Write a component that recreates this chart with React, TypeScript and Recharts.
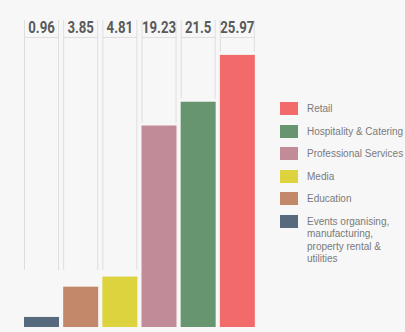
import { BarChart, Bar, XAxis, YAxis, Cell, Legend } from "recharts";

// Share of businesses by sector (%), smallest to largest as drawn left to right
const SECTORS = [
  "Events organising, manufacturing, property rental & utilities",
  "Education",
  "Media",
  "Professional Services",
  "Hospitality & Catering",
  "Retail",
];
const SHARES = [0.96, 3.85, 4.81, 19.23, 21.5, 25.97];
const SHARE_LABELS = ["0.96", "3.85", "4.81", "19.23", "21.5", "25.97"];
const COLORS = ["#56697d", "#c3876a", "#dcd33f", "#c18b98", "#679570", "#f26a6a"];

const data = SECTORS.map((name, i) => ({
  name,
  share: SHARES[i],
  label: SHARE_LABELS[i],
}));

const LINE = "#dedede";

// bar with its column frame: two thin uprights, the value on top and a rule under it
function FramedBar(props: any) {
  const { x, y, width, height, fill, background, payload } = props;
  const top = background.y;
  const bottom = background.y + background.height;
  const lineEnd = Math.min(bottom - 57, y - 3);
  return (
    <g>
      <line x1={x + 0.5} x2={x + 0.5} y1={top} y2={lineEnd} stroke={LINE} />
      <line x1={x + width - 0.5} x2={x + width - 0.5} y1={top} y2={lineEnd} stroke={LINE} />
      <line x1={x} x2={x + width} y1={top + 17.5} y2={top + 17.5} stroke={LINE} />
      {/* no condensed face installed, so squeeze Roboto bold horizontally */}
      <text
        transform={`translate(${x + width / 2}, ${top + 12.5}) scale(0.8, 1)`}
        textAnchor="middle"
        fill="#5a5a5a"
        fontSize={16.5}
        fontWeight="bold"
        fontFamily="Roboto, sans-serif"
      >
        {payload.label}
      </text>
      <rect x={x} y={y} width={width} height={height} fill={fill} />
    </g>
  );
}

function SectorLegend() {
  // legend lists the biggest sector first
  const order = SECTORS.map((_, i) => i).reverse();
  return (
    <div
      style={{
        fontFamily: '"Liberation Sans", Arial, sans-serif',
        fontSize: 10,
        color: "#7a7a7a",
      }}
    >
      {order.map((i) => (
        <div key={i} style={{ display: "flex", alignItems: "flex-start", marginBottom: 9 }}>
          <div style={{ width: 18, height: 13, background: COLORS[i], flexShrink: 0 }} />
          <div
            style={{
              marginLeft: 9,
              lineHeight: "12.5px",
              paddingTop: 1,
              whiteSpace: i === 0 ? "normal" : "nowrap",
              width: i === 0 ? 92 : undefined,
            }}
          >
            {SECTORS[i]}
          </div>
        </div>
      ))}
    </div>
  );
}

export default function App() {
  return (
    <div style={{ position: "absolute", left: 0, top: 0, width: 405, height: 332, background: "#f7f7f7", overflow: "hidden" }}>
      <BarChart
        width={405}
        height={332}
        data={data}
        margin={{ top: 20, right: 148, left: 22, bottom: 5 }}
        barCategoryGap={2}
      >
        <XAxis dataKey="name" hide />
        <YAxis domain={[0, 29.3]} hide />
        <Legend
          layout="vertical"
          align="center"
          verticalAlign="middle"
          content={() => <SectorLegend />}
          wrapperStyle={{ left: 280, top: 102, width: 125 }}
        />
        <Bar dataKey="share" shape={<FramedBar />} isAnimationActive={false}>
          {data.map((d, i) => (
            <Cell key={d.name} fill={COLORS[i]} />
          ))}
        </Bar>
      </BarChart>
    </div>
  );
}
